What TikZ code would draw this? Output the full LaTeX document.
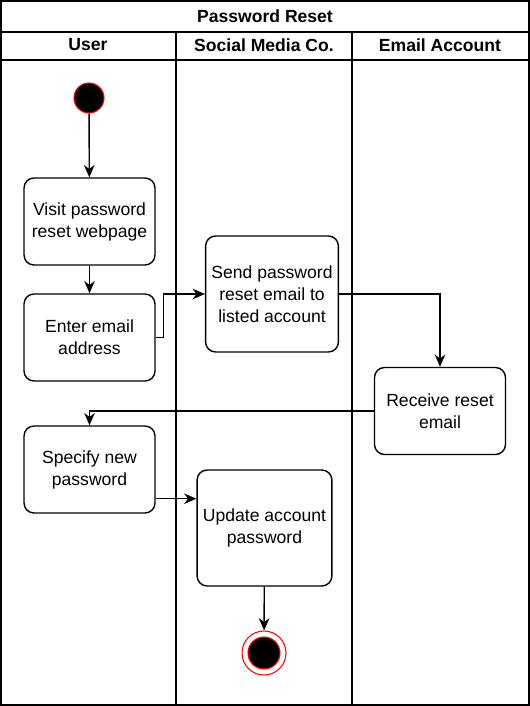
\documentclass[tikz,border=0pt]{standalone}
\usepackage{fontspec}
\setmainfont{Liberation Sans}
\usetikzlibrary{arrows.meta}
\begin{document}
\begin{tikzpicture}[
    x=0.02cm, y=-0.02cm,
    every node/.style={font=\fontsize{10}{12.5}\selectfont},
    header/.style={font=\fontsize{10}{12}\selectfont\bfseries},
    act/.style={draw, rounded corners=2mm, line width=0.8pt, minimum width=2.62cm, minimum height=1.74cm, align=center},
    tall/.style={minimum height=2.32cm},
    initnode/.style={circle, draw=red, fill=black, line width=0.6pt, minimum size=0.6cm, inner sep=0pt},
    finalring/.style={circle, draw=red, fill=white, line width=0.6pt, minimum size=0.88cm, inner sep=0pt},
    finaldot/.style={circle, draw=red, fill=black, line width=0.6pt, minimum size=0.64cm, inner sep=0pt},
    lane/.style={line width=0.8pt},
    arr/.style={-{Stealth[length=7pt,width=6pt]}, line width=0.8pt}
]
\useasboundingbox (0,0) rectangle (530,706);
% Pool and lanes
\draw[line width=1.2pt] (1,1) rectangle (529,705);
\draw[lane] (1,32) -- (529,32);
\draw[lane] (1,60) -- (529,60);
\draw[lane] (176,32) -- (176,705);
\draw[lane] (352,32) -- (352,705);
\node[header] (title) at (265,16) {Password Reset};
\node[header] (user) at (88,45) {User};
\node[header] (social) at (264,45) {Social Media Co.};
\node[header] (email) at (440,45) {Email Account};

% User lane
\node[initnode] (init) at (89,98) {};
\node[act] (visit) at (89.5,221.5) {Visit password\\reset webpage};
\node[act] (enter) at (89.5,337.5) {Enter email\\address};
\node[act] (specify) at (89.5,469.5) {Specify new\\password};

% Social Media Co. lane
\node[act, tall] (send) at (272,294) {Send password\\reset email to\\listed account};
\node[act, tall] (update) at (264.5,528) {Update account\\password};
\node[finalring] (final) at (264,653) {};
\node[finaldot] at (final) {};

% Email Account lane
\node[act] (receive) at (440,411) {Receive reset\\email};

% Flows
\draw[arr] (init) -- (visit);
\draw[arr] (visit) -- (enter);
\draw[arr] (enter.east) -- ++(8,0) |- (send.west);
\draw[arr] (send.east) -| (receive.north);
\draw[arr] (receive.west) -| (specify.north);
\draw[arr] ([yshift=0.3cm]specify.south east) -- ([yshift=0.3cm]specify.south east -| update.west);
\draw[arr] (update) -- (final);
\end{tikzpicture}
\end{document}
